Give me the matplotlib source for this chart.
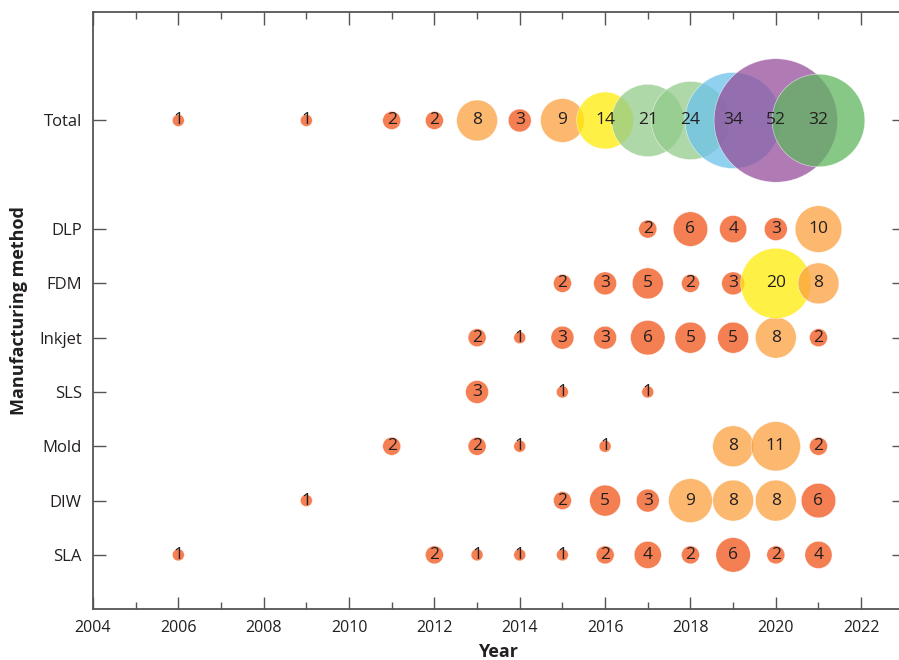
import numpy as np
import matplotlib.pyplot as plt
from matplotlib.ticker import MultipleLocator

plt.rcParams['font.family'] = ['Open Sans', 'DejaVu Sans']

"""Data: publications per year for each manufacturing method"""
methods = ["SLA", "DIW", "Mold", "SLS", "Inkjet", "FDM", "DLP", "Total"]
method_pos = [1, 2, 3, 4, 5, 6, 7, 9]

sla_years = [2006, 2012, 2013, 2014, 2015, 2016, 2017, 2018, 2019, 2020, 2021]
sla_counts = [1, 2, 1, 1, 1, 2, 4, 2, 6, 2, 4]
diw_years = [2009, 2015, 2016, 2017, 2018, 2019, 2020, 2021]
diw_counts = [1, 2, 5, 3, 9, 8, 8, 6]
mold_years = [2011, 2013, 2014, 2016, 2019, 2020, 2021]
mold_counts = [2, 2, 1, 1, 8, 11, 2]
sls_years = [2013, 2015, 2017]
sls_counts = [3, 1, 1]
inkjet_years = [2013, 2014, 2015, 2016, 2017, 2018, 2019, 2020, 2021]
inkjet_counts = [2, 1, 3, 3, 6, 5, 5, 8, 2]
fdm_years = [2015, 2016, 2017, 2018, 2019, 2020, 2021]
fdm_counts = [2, 3, 5, 2, 3, 20, 8]
dlp_years = [2017, 2018, 2019, 2020, 2021]
dlp_counts = [2, 6, 4, 3, 10]
total_years = [2006, 2009, 2011, 2012, 2013, 2014, 2015, 2016, 2017, 2018, 2019, 2020, 2021]
total_counts = [1, 1, 2, 2, 8, 3, 9, 14, 21, 24, 34, 52, 32]

series = [(sla_years, sla_counts), (diw_years, diw_counts), (mold_years, mold_counts),
          (sls_years, sls_counts), (inkjet_years, inkjet_counts), (fdm_years, fdm_counts),
          (dlp_years, dlp_counts), (total_years, total_counts)]


def bubble_color(v):
    """colour of a bubble depending on its count"""
    if v <= 6:
        return '#F0541A'
    if v <= 12:
        return '#FAA03E'
    if v <= 20:
        return '#FFEB08'
    if v <= 30:
        return '#93CB8B'
    if v == 32:
        return '#5FB65F'
    if v == 34:
        return '#6CC2EC'
    return '#964E9B'


def bubble_size(v):
    """marker area in points^2"""
    return (8.64 * np.power(v, 0.59)) ** 2


fig = plt.figure(figsize=(8.99, 6.60), dpi=100)
ax = fig.add_axes([0.1034, 0.077, 0.902, 0.905])

for pos, (years, counts) in zip(method_pos, series):
    counts = np.array(counts)
    ax.scatter(years, [pos] * len(years), s=bubble_size(counts),
               c=[bubble_color(v) for v in counts], alpha=0.75,
               edgecolors='white', linewidths=0.4, zorder=2)
    for yr, v in zip(years, counts):
        ax.text(yr, pos, str(v), ha='center', va='center', fontsize=12.5,
                color='#231F20', zorder=3)

ax.set_xlim(2004, 2023)
ax.set_ylim(0, 11)
ax.xaxis.set_major_locator(MultipleLocator(2))
ax.xaxis.set_minor_locator(MultipleLocator(1))
ax.set_yticks(method_pos)
ax.set_yticklabels(methods)

ax.tick_params(which='both', direction='in', top=True, right=True, colors='#555555',
               labelcolor='#231F20', width=1.0)
ax.tick_params(which='major', length=9)
ax.tick_params(which='minor', length=5)
ax.tick_params(axis='x', labelsize=11.5, pad=8)
ax.tick_params(axis='y', labelsize=12, pad=8)
for sp in ax.spines.values():
    sp.set_color('#555555')
    sp.set_linewidth(1.3)

ax.set_xlabel("Year", fontsize=13, fontweight='bold', color='#231F20', labelpad=5)
ax.set_ylabel("Manufacturing method", fontsize=13, fontweight='bold', color='#231F20', labelpad=8)

plt.savefig("out.png", dpi=100)
